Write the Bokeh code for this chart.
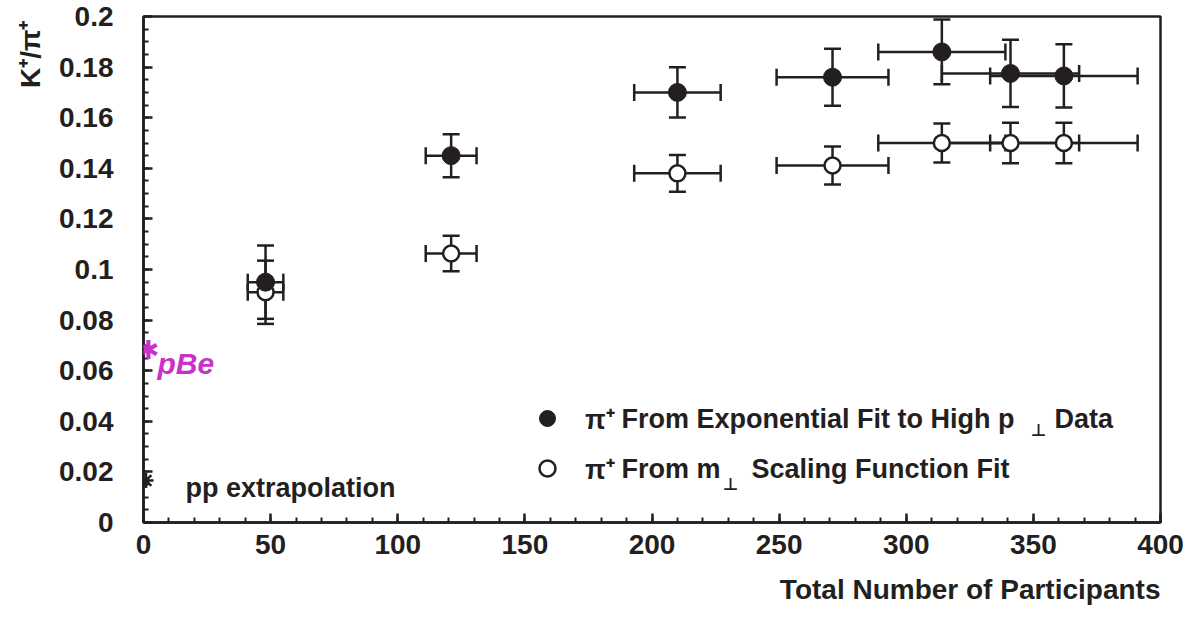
import numpy as np
from bokeh.plotting import figure
from bokeh.models import (ColumnDataSource, Whisker, TeeHead, Label, FixedTicker, Title,
                          CustomJSTickFormatter, Range1d, Legend, LegendItem)
from bokeh.embed import file_html
from bokeh.resources import INLINE

# ---------------- data ----------------
n_part = [48, 121, 210, 271, 314, 341, 362]          # total number of participants
n_part_err = [7, 10, 17, 22, 25, 27, 29]              # horizontal error
kpi_exp = [0.095, 0.145, 0.170, 0.176, 0.186, 0.1775, 0.1765]      # pi+ from exponential fit
kpi_exp_err = [0.0145, 0.0085, 0.0099, 0.0113, 0.0128, 0.0133, 0.0125]
kpi_mt = [0.091, 0.1063, 0.138, 0.1411, 0.150, 0.150, 0.150]       # pi+ from m_T scaling fit
kpi_mt_err = [0.0125, 0.007, 0.0073, 0.0075, 0.0077, 0.008, 0.008]
pp_n = [1]
pp_kpi = [0.0166]
pbe_n = [0]
pbe_kpi = [0.068]
x_ticks = [0, 50, 100, 150, 200, 250, 300, 350, 400]
y_ticks = [0, 0.02, 0.04, 0.06, 0.08, 0.1, 0.12, 0.14, 0.16, 0.18, 0.2]

INK = "#231f20"
MAGENTA = "#c832c8"
FONT = "Liberation Sans"


def make_source(x, xe, y, ye):
    x = np.array(x, float); xe = np.array(xe, float)
    y = np.array(y, float); ye = np.array(ye, float)
    return ColumnDataSource(dict(x=x, y=y, xlo=x - xe, xhi=x + xe, ylo=y - ye, yhi=y + ye))


src_exp = make_source(n_part, n_part_err, kpi_exp, kpi_exp_err)
src_mt = make_source(n_part, n_part_err, kpi_mt, kpi_mt_err)

p = figure(width=1196, height=619, x_range=Range1d(0, 400), y_range=Range1d(0, 0.2),
           output_backend="svg", toolbar_location=None,
           min_border_left=143, min_border_right=36, min_border_top=16, min_border_bottom=97)
p.background_fill_color = "white"
p.border_fill_color = "white"
p.outline_line_color = INK
p.outline_line_width = 2.5
p.grid.visible = False

for ax in (p.xaxis[0], p.yaxis[0]):
    ax.axis_line_color = INK
    ax.axis_line_width = 2.5
    ax.major_tick_line_color = INK
    ax.major_tick_line_width = 2.5
    ax.major_tick_in = 9
    ax.major_tick_out = 0
    ax.minor_tick_line_color = INK
    ax.minor_tick_line_width = 2
    ax.minor_tick_in = 5
    ax.minor_tick_out = 0
    ax.major_label_text_font = FONT
    ax.major_label_text_font_size = "28px"
    ax.major_label_text_font_style = "bold"
    ax.major_label_text_color = INK

p.xaxis.ticker = FixedTicker(ticks=x_ticks, minor_ticks=[float(v) for v in np.arange(0, 401, 10)])
p.yaxis.ticker = FixedTicker(ticks=y_ticks,
                             minor_ticks=[round(float(v), 3) for v in np.arange(0, 0.2001, 0.005)])
p.yaxis.formatter = CustomJSTickFormatter(code="return tick.toFixed(2).replace(/\\.?0+$/, '');")
p.xaxis.major_label_standoff = 12
p.yaxis.major_label_standoff = 30

# axis titles (as side-panel titles so they are not clipped by the frame)
p.add_layout(Title(text="Total Number of Participants", align="right", text_font=FONT,
                   text_font_size="28px", text_font_style="bold", text_color=INK,
                   standoff=30, offset=0), "below")
p.add_layout(Title(text="K⁺/π⁺", align="right", text_font=FONT,
                   text_font_size="28px", text_font_style="bold", text_color=INK,
                   standoff=21, offset=4), "left")


def whiskers(src):
    head = dict(size=17, line_width=2.5, line_color=INK)
    wy = Whisker(source=src, base="x", lower="ylo", upper="yhi", dimension="height",
                 line_color=INK, line_width=2.5,
                 upper_head=TeeHead(**head), lower_head=TeeHead(**head))
    wx = Whisker(source=src, base="y", lower="xlo", upper="xhi", dimension="width",
                 line_color=INK, line_width=2.5,
                 upper_head=TeeHead(**head), lower_head=TeeHead(**head))
    p.add_layout(wy)
    p.add_layout(wx)


whiskers(src_mt)
whiskers(src_exp)

r_mt = p.scatter("x", "y", source=src_mt, size=16, marker="circle",
                 fill_color="white", line_color=INK, line_width=2.5)
r_exp = p.scatter("x", "y", source=src_exp, size=18, marker="circle",
                  fill_color=INK, line_color=INK, line_width=1)

# pp extrapolation point
p.scatter(pp_n, pp_kpi, marker="asterisk", size=15, line_width=2.5, line_color=INK)
p.add_layout(Label(x=42, y=35, x_units="screen", y_units="screen", text="pp extrapolation",
                   text_font=FONT, text_font_size="27px", text_font_style="bold",
                   text_color=INK, text_baseline="alphabetic"))

# handwritten pBe note
p.add_layout(Label(x=pbe_n[0], y=pbe_kpi[0], x_offset=5, text="✱",
                   text_font="DejaVu Sans", text_font_size="26px", text_color=MAGENTA,
                   text_align="center", text_baseline="middle"))
p.add_layout(Label(x=pbe_n[0], y=pbe_kpi[0], x_offset=14, y_offset=-13, text="pBe",
                   text_font=FONT, text_font_style="bold italic", text_font_size="30px",
                   text_color=MAGENTA, text_baseline="alphabetic"))

# legend
legend = Legend(items=[LegendItem(label="π⁺", renderers=[r_exp]),
                       LegendItem(label="π⁺", renderers=[r_mt])],
                location=(384, 34), glyph_width=40, glyph_height=40, label_height=40,
                spacing=10, padding=0, margin=0, label_standoff=18,
                border_line_alpha=0, background_fill_alpha=0,
                label_text_font=FONT, label_text_font_size="27px",
                label_text_font_style="bold", label_text_color=INK)
p.add_layout(legend)


def legend_text(sx, sy, text, size="27px", align="left", font=FONT, style="bold"):
    p.add_layout(Label(x=sx, y=sy, x_units="screen", y_units="screen", text=text,
                       text_font=font, text_font_size=size, text_font_style=style,
                       text_color=INK, text_align=align, text_baseline="middle"))


legend_text(478, 104, "From Exponential Fit to High p")
legend_text(895, 93, "⊥", size="17px", align="center", font="DejaVu Sans")
legend_text(911, 104, "Data")
legend_text(478, 54, "From m")
legend_text(587, 39, "⊥", size="17px", align="center", font="DejaVu Sans")
legend_text(608, 54, "Scaling Function Fit")

open("out.html", "w").write(file_html(p, INLINE))
